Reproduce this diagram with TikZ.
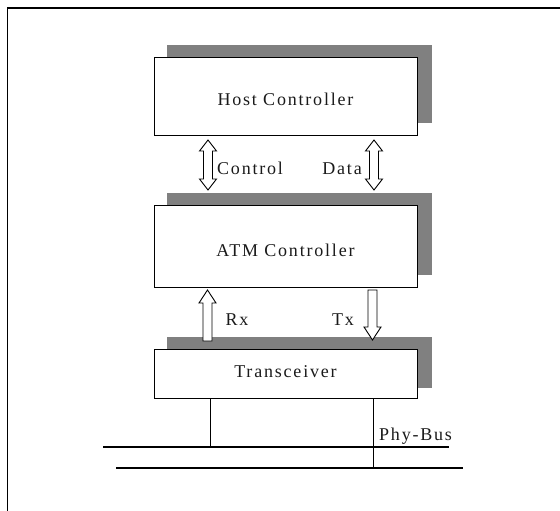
\documentclass[tikz,border=0pt]{standalone}
\usepackage{fontspec}
\setmainfont{Liberation Serif}[LetterSpace=10]
\definecolor{shadowgray}{HTML}{808080}
\definecolor{inkgray}{HTML}{1A1A1A}
\newcommand{\fatup}[4]{%
  \draw[fat] (#1-4.5,#3) -- (#1-4.5,#2+#4) -- (#1-8.5,#2+#4) -- (#1,#2) -- (#1+8.5,#2+#4) -- (#1+4.5,#2+#4) -- (#1+4.5,#3) -- cycle;}
\newcommand{\fatdown}[4]{%
  \draw[fat] (#1-4.5,#2) -- (#1-4.5,#3-#4) -- (#1-8.5,#3-#4) -- (#1,#3) -- (#1+8.5,#3-#4) -- (#1+4.5,#3-#4) -- (#1+4.5,#2) -- cycle;}
\newcommand{\fatboth}[4]{%
  \draw[fat] (#1,#2) -- (#1+8.5,#2+#4) -- (#1+4.5,#2+#4) -- (#1+4.5,#3-#4) -- (#1+8.5,#3-#4) -- (#1,#3) -- (#1-8.5,#3-#4) -- (#1-4.5,#3-#4) -- (#1-4.5,#2+#4) -- (#1-8.5,#2+#4) -- cycle;}
\begin{document}
\begin{tikzpicture}[x=1pt,y=-1pt,
  box/.style={draw, line width=0.9pt, fill=white, inner sep=0pt, minimum width=263pt},
  shadowbox/.style={fill=shadowgray},
  fat/.style={draw, line width=0.9pt, fill=white, line join=miter},
  lbl/.style={inner sep=0pt, anchor=base, font=\fontsize{18}{20}\selectfont, text=inkgray},
  wire/.style={line width=0.9pt}]
\useasboundingbox (0,0) rectangle (560,511);
% outer frame
\draw[line width=1.3pt] (7.5,515) -- (7.5,8) -- (565,8);
% shadows
\fill[shadowbox] (167,45) rectangle (432,123);
\fill[shadowbox] (167,193) rectangle (432,275);
\fill[shadowbox] (167,337) rectangle (432,388);
% boxes
\node[box, minimum height=78pt] (host) at (285.5,96) {};
\node[box, minimum height=82pt] (atm) at (285.5,246) {};
\node[box, minimum height=49pt] (trans) at (285.5,373.5) {};
% fat arrows
\fatboth{208}{140}{190}{11}
\fatboth{374}{140}{190}{11}
\fatup{207.5}{290}{341}{13}
\fatdown{372.5}{290}{340}{13}
% bus lines
\coordinate (bus1w) at (103,447);
\coordinate (bus1e) at (449,447);
\coordinate (bus2w) at (116,468);
\coordinate (bus2e) at (463,468);
\draw[line width=1.3pt] (bus1w) -- (bus1e);
\draw[line width=2.8pt] (bus2w) -- (bus2e);
\coordinate (tap1) at (210,447);
\coordinate (tap2) at (373,468);
\draw[wire] (tap1 |- trans.south) -- (tap1);
\draw[wire] (tap2 |- trans.south) -- (tap2);
% labels
\node[lbl] (hostt) at (285.5,106) {Host Controller};
\node[lbl] (atmt) at (285.5,256) {ATM Controller};
\node[lbl] (transt) at (285.5,377) {Transceiver};
\node[lbl, anchor=base west] (ctrl) at (217,174) {Control};
\node[lbl, anchor=base east] (data) at (362,174) {Data};
\node[lbl] (rx) at (237,325) {Rx};
\node[lbl] (tx) at (343,325) {Tx};
\node[lbl, anchor=base west] (phy) at (379,440) {Phy-Bus};
\end{tikzpicture}
\end{document}
